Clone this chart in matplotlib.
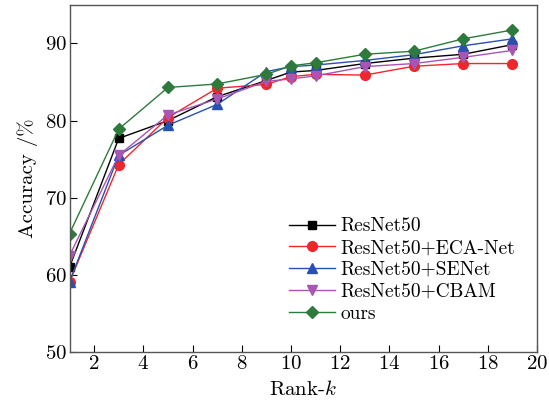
import matplotlib
matplotlib.use('Agg')
import matplotlib.pyplot as plt

plt.rcParams['font.family'] = 'cmr10'
plt.rcParams['mathtext.fontset'] = 'cm'
plt.rcParams['axes.unicode_minus'] = False
plt.rcParams['axes.formatter.use_mathtext'] = True

rank = [1, 3, 5, 7, 9, 10, 11, 13, 15, 17, 19]
resnet50 = [61.0, 77.7, 80.0, 83.1, 85.2, 86.3, 86.5, 87.4, 88.1, 88.6, 89.85]
eca = [59.1, 74.3, 80.4, 84.2, 84.7, 85.7, 86.0, 85.9, 87.05, 87.4, 87.4]
senet = [59.1, 75.5, 79.4, 82.1, 86.35, 87.0, 87.2, 87.8, 88.55, 89.7, 90.6]
cbam = [62.5, 75.5, 80.75, 82.8, 85.1, 85.4, 85.8, 87.0, 87.4, 88.2, 89.1]
ours = [65.35, 78.9, 84.3, 84.75, 86.0, 87.1, 87.5, 88.6, 89.0, 90.6, 91.75]

fig = plt.figure(figsize=(5.49, 4.08), dpi=100)
ax = fig.add_axes([0.1266, 0.137, 0.8516, 0.851])

ax.plot(rank, resnet50, color='black', marker='s', ms=6, lw=1, label='ResNet50')
ax.plot(rank, eca, color='#f0262c', marker='o', ms=7, lw=1, label='ResNet50+ECA-Net')
ax.plot(rank, senet, color='#2850b0', marker='^', ms=7, lw=1, label='ResNet50+SENet')
ax.plot(rank, cbam, color='#a855b5', marker='v', ms=7, lw=1, label='ResNet50+CBAM')
ax.plot(rank, ours, color='#2e7a3c', marker='D', ms=6, lw=1, label='ours')

ax.set_xlim(1, 20)
ax.set_ylim(50, 95)
ax.set_xticks(range(2, 21, 2))
ax.set_yticks(range(50, 91, 10))
ax.tick_params(direction='in', length=5, labelsize=15, colors='black', pad=2)
for s in ax.spines.values():
    s.set_color('#555555')
    s.set_linewidth(1)

ax.set_xlabel('Rank-$k$', fontsize=15, labelpad=5)
ax.set_ylabel('Accuracy /%', fontsize=15, labelpad=5)

ax.legend(loc='upper left', bbox_to_anchor=(0.452, 0.41), frameon=False,
          fontsize=14, handlelength=2.4, labelspacing=0.2, handletextpad=0.25,
          borderaxespad=0)

fig.savefig('out.png', dpi=100)
